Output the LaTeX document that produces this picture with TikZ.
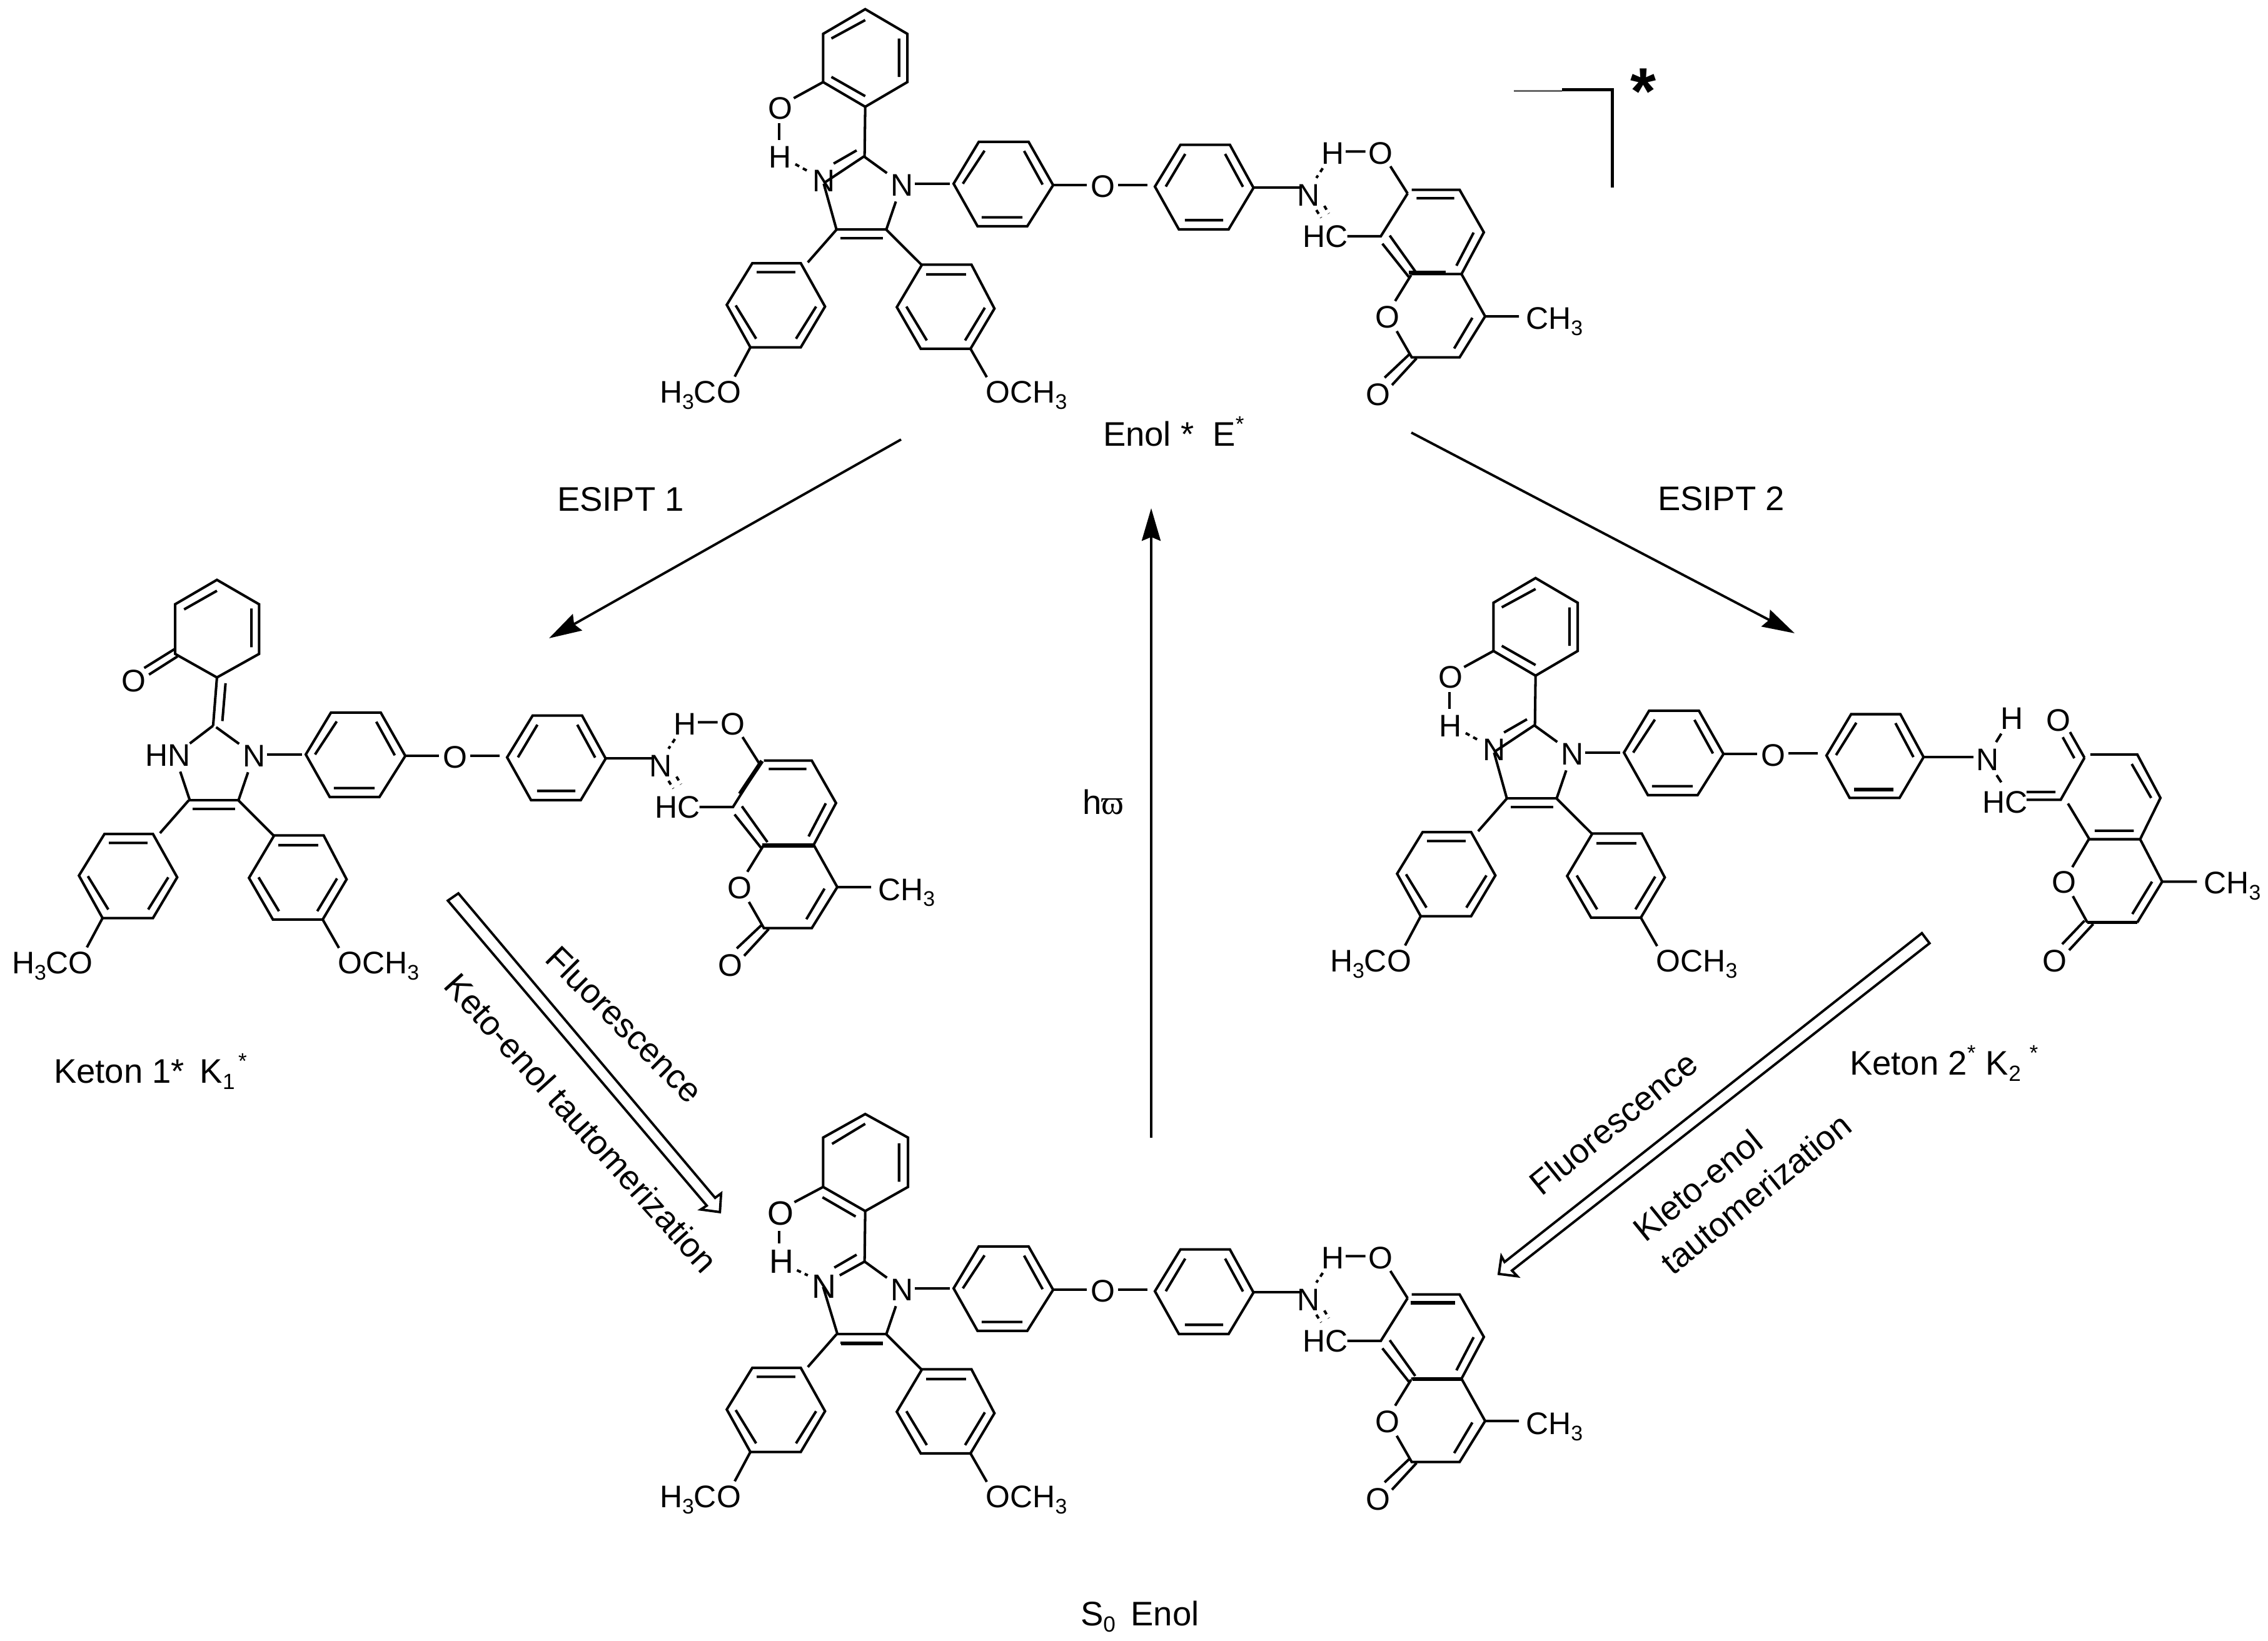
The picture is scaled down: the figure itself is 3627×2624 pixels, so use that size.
\documentclass[tikz,border=0pt]{standalone}
\usepackage{fontspec}
\setmainfont{Liberation Sans}
\newfontfamily\serifgk{Liberation Serif}
\usetikzlibrary{arrows.meta}
\newcommand{\fa}{\fontsize{14.2pt}{16pt}\selectfont}
\newcommand{\fb}{\fontsize{15.5pt}{18pt}\selectfont}
\newcommand{\sbs}[1]{\raisebox{-0.2em}{\fontsize{9.6pt}{10pt}\selectfont #1}}
\newcommand{\sbl}[1]{\raisebox{-0.2em}{\fontsize{10pt}{10pt}\selectfont #1}}
\newcommand{\sps}{\raisebox{0.42em}{\fontsize{10pt}{10pt}\selectfont *}}
\tikzset{
  zm/.style n args={4}{x={0.01cm*#3/1568},y={-0.01cm*#4/1568},shift={(#1*0.01cm,-#2*0.01cm)}},
  bd/.style={line width=1.15pt,line cap=butt,line join=miter,black},
  hv/.style={line width=1.9pt,line cap=butt,black},
  hb/.style={line width=1.15pt,dash pattern=on 2pt off 1.9pt,black},
  atom/.style={inner sep=0pt,outer sep=0pt,font=\fa,anchor=center},
  atomb/.style={inner sep=0pt,outer sep=0pt,font=\fontsize{15.3pt}{16pt}\selectfont,anchor=center},
  grp/.style={inner sep=0pt,outer sep=0pt,font=\fa,anchor=base west},
  lbl/.style={inner sep=0pt,outer sep=0pt,font=\fb,anchor=base west},
  rot/.style={inner sep=0pt,outer sep=0pt,font=\fb,anchor=center},
  rxn/.style={line width=1.1pt,black,-{Stealth[length=0.52cm,width=0.30cm,inset=0.06cm]}},
  hollow/.style={line width=1.1pt,line join=miter,black,fill=white}
}
% --- diaryl imidazole core, in the coordinates of the top molecule
\newcommand{\LeftCore}{%
 \draw[bd] (662,800)--(818,800) (675,830)--(807,830);
 \draw[bd] (848,702)--(818,800) (748,545)--(820,603);
 \node[atom] (n1) at (868,646) {N};
 \draw[bd] (907,640)--(1018,640);
 \draw[bd] (1108,494)--(1264,494)--(1341,645)--(1260,788)--(1104,788)--(1029,640)--cycle;
 \draw[bd] (1126,525)--(1058,640) (1250,526)--(1308,643) (1117,757)--(1245,757);
 \draw[bd] (1341,645)--(1447,645);
 \node[atom] (o3) at (1497,650) {O};
 \draw[bd] (662,800)--(572,914) (818,800)--(928,922);
 \draw[bd] (398,917)--(550,917)--(626,1068)--(550,1210)--(392,1210)--(318,1062)--cycle;
 \draw[bd] (412,948)--(533,948) (598,1068)--(535,1180) (346,1064)--(410,1180);
 \draw[bd] (392,1210)--(343,1312);
 \node[grp] (mea) at (108,1403) {H\sbs{3}CO};
 \draw[bd] (930,922)--(1085,922)--(1157,1075)--(1082,1215)--(926,1215)--(851,1070)--cycle;
 \draw[bd] (943,956)--(1068,956) (1127,1072)--(1065,1186) (881,1068)--(945,1186);
 \draw[bd] (1082,1215)--(1133,1314);
 \node[grp] (meb) at (1130,1403) {OCH\sbs{3}};
}
% --- phenol and imine side of the imidazole (top molecule and keton 2)
\newcommand{\EnolSide}{%
 \draw[bd] (752,32)--(884,118)--(884,286)--(752,372)--(620,286)--(620,118)--cycle;
 \draw[bd] (646,134)--(752,70) (858,134)--(858,268) (646,268)--(752,335);
 \draw[bd] (620,286)--(528,342);
 \node[atom] (o1) at (486,378) {O};
 \draw[bd] (483,430)--(483,488);
 \node[atom] (h1) at (486,548) {H};
 \draw[bd] (752,372)--(750,545);
 \draw[bd] (748,545)--(622,638) (725,524)--(653,570);
 \draw[hb] (533,572)--(572,596);
 \node[atom] (n2) at (622,630) {N};
 \draw[bd] (622,640)--(662,800);
}
% --- coumarin side, coordinates of the top molecule right half
\newcommand{\RightCore}{%
 \draw[bd] (-24,495)--(68,495);
 \draw[bd] (172,333)--(327,333)--(401,507)--(323,675)--(167,675)--(92,502)--cycle;
 \draw[bd] (187,370)--(126,502) (312,370)--(368,503) (186,638)--(306,638);
 \draw[bd] (401,507)--(547,507);
 \node[atom] (n3) at (573,537) {N};
 \node[atom] (h2) at (650,367) {H};
 \node[atom] (o2) at (800,367) {O};
 \draw[bd] (690,360)--(752,360) (830,420)--(884,530);
 \draw[hb] (618,428)--(598,467);
 \draw[hb] (598,597)--(613,628) (623,580)--(637,611);
 \node[grp] (hc) at (555,748) {HC};
 \draw[bd] (695,703)--(800,703)--(884,530);
 \draw[bd] (897,515)--(1047,515)--(1123,687)--(1053,856)--(895,856);
 \draw[bd] (912,549)--(1030,549) (1091,688)--(1037,822);
 \draw[bd] (805,733)--(888,868) (828,700)--(908,845);
 \draw[bd] (895,860)--(845,965);
 \node[atom] (o4) at (822,1030) {O};
 \draw[bd] (850,1087)--(897,1193)--(1047,1193)--(1127,1027)--(1053,856);
 \draw[bd] (1030,1157)--(1087,1033) (1127,1027)--(1233,1027);
 \node[grp] (me) at (1255,1080) {CH\sbs{3}};
 \draw[bd] (890,1180)--(812,1275) (912,1197)--(835,1305);
 \node[atom] (o5) at (792,1343) {O};
}
\begin{document}
\begin{tikzpicture}[x=0.01cm,y=-0.01cm]
\path[use as bounding box,fill=white] (0,0) rectangle (3627,2624);

% ===== top molecule: Enol*
\begin{scope}[name prefix=top-]
 \begin{scope}[zm={1000}{0}{800}{720}] \LeftCore \EnolSide \end{scope}
 \begin{scope}[zm={1800}{100}{800}{620}]
  \RightCore
  \draw[hv] (887,850)--(1003,850);
  \draw[line width=0.6pt,black!60] (1217,115)--(1368,115);
  \draw[line width=1.4pt,black,line join=miter] (1368,110)--(1525,110)--(1525,507);
 \end{scope}
\end{scope}
\node[inner sep=0pt,anchor=base,font=\bfseries\fontsize{30pt}{30pt}\selectfont] (star) at (2628,182) {*};

% ===== left molecule: Keton 1*
\begin{scope}[name prefix=ka-]
 \begin{scope}[shift={(-1036,913)}]
  \begin{scope}[zm={1000}{0}{800}{720}] \LeftCore \end{scope}
  \begin{scope}[zm={1800}{100}{800}{620}] \RightCore \end{scope}
 \end{scope}
 \begin{scope}[zm={0}{900}{800}{720}]
  \draw[bd] (680,60)--(812,145)--(812,318)--(680,400)--(549,318)--(549,145)--cycle;
  \draw[bd] (577,163)--(680,98) (788,160)--(788,295);
  \draw[bd] (549,300)--(452,367) (556,327)--(467,390);
  \node[atom] (o1) at (420,412) {O};
  \draw[bd] (680,400)--(668,568) (707,420)--(697,552);
  \draw[bd] (668,568)--(595,630);
  \node[grp] (hn) at (455,708) {HN};
  \draw[bd] (565,728)--(595,828);
 \end{scope}
 \begin{scope}[zm={780}{1050}{760}{600}]
  \draw[hv] (905,437)--(832,575);
  \draw[hv] (905,790)--(1075,790);
 \end{scope}
\end{scope}

% ===== right molecule: Keton 2*
\begin{scope}[name prefix=kb-]
 \begin{scope}[shift={(1072,910)}]
  \begin{scope}[zm={1000}{0}{800}{720}] \LeftCore \EnolSide \end{scope}
 \end{scope}
 \begin{scope}[zm={2900}{1080}{727}{560}]
  \draw[bd] (-86,350)--(16,350);
  \draw[bd] (130,175)--(300,175)--(380,367)--(297,550)--(125,550)--(45,360)--cycle;
  \draw[bd] (148,213)--(78,358) (283,215)--(345,367);
  \draw[hv] (140,512)--(277,512);
  \draw[bd] (380,367)--(552,367);
  \node[atom] (n3) at (600,378) {N};
  \node[atom] (h2) at (685,195) {H};
  \node[atom] (o2) at (845,203) {O};
  \draw[bd] (630,300)--(648,262) (632,448)--(648,480);
  \node[grp] (hc) at (583,617) {HC};
  \draw[bd] (735,523)--(835,523) (735,558)--(853,558)--(935,370);
  \draw[bd] (885,255)--(935,370) (860,278)--(900,372);
  \draw[bd] (955,355)--(1117,355)--(1197,550)--(1127,735)--(952,735)--(878,575);
  \draw[bd] (1098,398)--(1165,550) (970,697)--(1105,697);
  \draw[bd] (950,735)--(893,860);
  \node[atom] (o4) at (865,927) {O};
  \draw[bd] (895,990)--(945,1108);
  \draw[line width=1.4pt,black] (945,1108)--(1117,1108);
  \draw[bd] (1117,1108)--(1203,925)--(1127,735);
  \draw[bd] (1100,1070)--(1168,925) (1203,925)--(1323,925);
  \node[grp] (me) at (1347,980) {CH\sbs{3}};
  \draw[bd] (935,1100)--(858,1205) (965,1115)--(882,1232);
  \node[atom] (o5) at (833,1280) {O};
 \end{scope}
\end{scope}

% ===== bottom molecule: S0 enol
\begin{scope}[name prefix=so-]
 \begin{scope}[shift={(0,1767)}]
  \begin{scope}[zm={1000}{0}{800}{720}] \LeftCore \end{scope}
  \begin{scope}[zm={1800}{100}{800}{620}] \RightCore \end{scope}
 \end{scope}
 \begin{scope}[zm={1000}{1760}{800}{720}]
  \draw[bd] (752,48)--(886,130)--(886,302)--(752,386)--(620,302)--(620,130)--cycle;
  \draw[bd] (648,152)--(752,82) (858,150)--(858,284) (618,338)--(722,405);
  \draw[bd] (620,302)--(530,355);
  \node[atomb] (o1) at (487,395) {O};
  \draw[bd] (483,455)--(483,498);
  \node[atomb] (h1) at (490,562) {H};
  \draw[bd] (752,386)--(750,562);
  \draw[bd] (750,562)--(672,610) (725,538)--(655,583);
  \draw[hb] (538,592)--(572,610);
  \node[atomb] (n2) at (624,648) {N};
  \draw[bd] (620,650)--(665,815);
  \draw[line width=1.5pt,black] (677,847)--(807,847);
 \end{scope}
 \begin{scope}[zm={1800}{1860}{800}{620}]
  \draw[line width=1.7pt,black] (893,567)--(1033,567);
  \draw[line width=1.5pt,black] (900,875)--(1053,875);
 \end{scope}
\end{scope}

% ===== reaction arrows
\coordinate (ea) at (1441,703);
\coordinate (eb) at (878,1021);
\coordinate (fa) at (2257,692);
\coordinate (fb) at (2870,1013);
\coordinate (ga) at (1841,1820);
\coordinate (gb) at (1841,813);
\draw[rxn] (ea)--(eb);
\draw[rxn] (fa)--(fb);
\draw[rxn] (ga)--(gb);
\begin{scope}[zm={650}{1400}{600}{650}]
 \draw[hollow] (173,98)--(217,70)--(1290,1245)--(1315,1228)--(1310,1300)--(1230,1290)--(1255,1275)--cycle;
\end{scope}
\begin{scope}[zm={2350}{1450}{800}{650}]
 \draw[hollow] (1418,103)--(110,1372)--(100,1350)--(92,1418)--(150,1427)--(133,1405)--(1442,142)--cycle;
\end{scope}

% ===== labels
\node[lbl] (enol) at (1764,713) {Enol *\hspace{0.55em}E\sps};
\node[lbl] (esa) at (891,817) {ESIPT 1};
\node[lbl] (esb) at (2651,816) {ESIPT 2};
\node[lbl] (hw) at (1731,1302) {h{\serifgk ϖ}};
\node[lbl] (ketona) at (86,1732) {Keton 1*\hspace{0.45em}K\sbl{1}\hspace{0.1em}\sps};
\node[lbl] (ketonb) at (2958,1719) {Keton 2\sps\hspace{0.3em}K\sbl{2}\hspace{0.25em}\sps};
\node[lbl] (sz) at (1728,2600) {S\sbl{0}\hspace{0.45em}Enol};
\node[rot,rotate=-45] (fla) at (999,1638) {Fluorescence};
\node[rot,rotate=-48] (keta) at (930,1796) {Keto-enol tautomerization};
\node[rot,rotate=39] (flb) at (2580,1796) {Fluorescence};
\node[rot,rotate=39] (ketb) at (2715,1896) {Kleto-enol};
\node[rot,rotate=39] (taut) at (2808,1909) {tautomerization};
\end{tikzpicture}
\end{document}
